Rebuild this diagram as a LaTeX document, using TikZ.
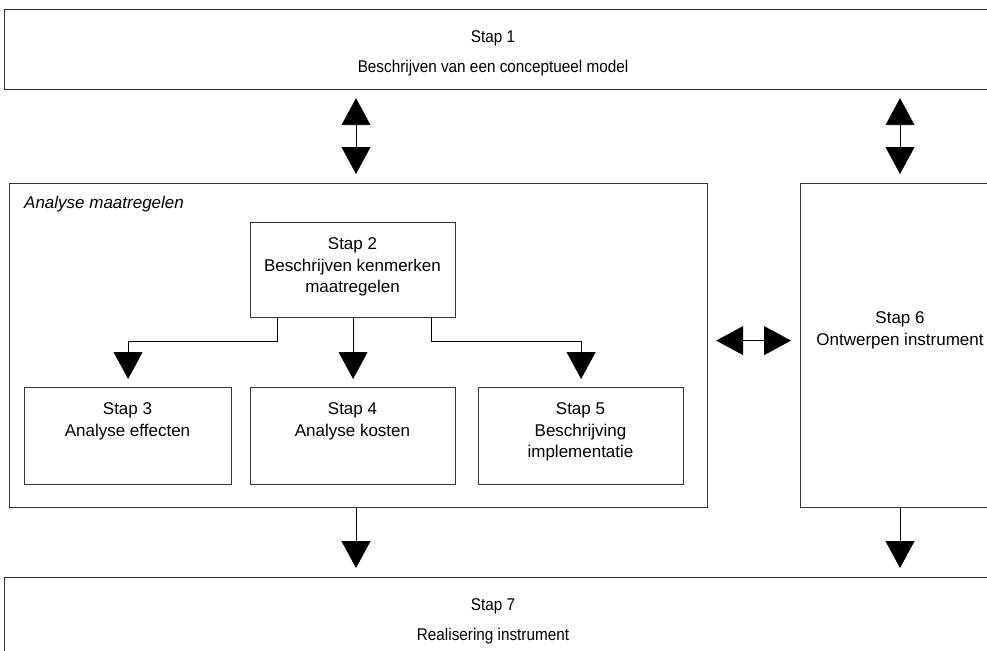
\documentclass[tikz,border=0pt]{standalone}
\usepackage{fontspec}
\setmainfont{Liberation Sans}
\newfontfamily\narrowsans[FakeStretch=0.9]{Liberation Sans}
\usetikzlibrary{arrows.meta}
\begin{document}
\begin{tikzpicture}[x=1pt,y=-1pt,
  frame/.style={draw=black!80, line width=1.2pt, inner sep=0pt, anchor=north west},
  lbl/.style={font=\fontsize{17}{21.8}\selectfont, align=center, inner sep=0pt},
  widelbl/.style={font=\narrowsans\fontsize{17}{30}\selectfont, align=center, inner sep=0pt},
  link/.style={line width=0.9pt},
  head/.tip={Triangle[length=27pt,width=29pt]},
  onehead/.style={link, -head},
  twohead/.style={link, head-head}
]
\useasboundingbox (0,0) rectangle (987,650);

% frames
\node[frame, minimum width=1000pt, minimum height=80pt]  (s1)  at (4,9)    {};
\node[frame, minimum width=698pt,  minimum height=324pt] (grp) at (9,183)  {};
\node[frame, minimum width=220pt,  minimum height=324pt] (s6)  at (800,183) {};
\node[frame, minimum width=1000pt, minimum height=100pt] (s7)  at (4,577)  {};
\node[frame, minimum width=205pt,  minimum height=95pt]  (s2)  at (250,222) {};
\node[frame, minimum width=207pt,  minimum height=97pt]  (s3)  at (24,387)  {};
\node[frame, minimum width=205pt,  minimum height=97pt]  (s4)  at (250,387) {};
\node[frame, minimum width=205pt,  minimum height=97pt]  (s5)  at (478,387) {};

% labels
\node[widelbl] (t1) at (493,53) {Stap 1\\Beschrijven van een conceptueel model};
\node[lbl, font=\fontsize{17}{21.8}\selectfont\itshape, anchor=west] (tg) at (24,204) {Analyse maatregelen};
\node[lbl] (t2) at (352.5,267) {Stap 2\\Beschrijven kenmerken\\maatregelen};
\node[lbl] (t3) at (127.5,421.5) {Stap 3\\Analyse effecten};
\node[lbl] (t4) at (352.5,421.5) {Stap 4\\Analyse kosten};
\node[lbl] (t5) at (580.5,432) {Stap 5\\Beschrijving\\implementatie};
\node[lbl] (t6) at (900,330) {Stap 6\\Ontwerpen instrument};
\node[widelbl] (t7) at (493,621) {Stap 7\\Realisering instrument};

% connectors
\coordinate (ax) at (356,0);
\coordinate (bx) at (900,0);
\coordinate (bus) at (0,341);
\draw[twohead, shorten <=8pt, shorten >=9pt] (s1.south -| ax) -- (grp.north -| ax);
\draw[twohead, shorten <=8pt, shorten >=9pt] (s1.south -| bx) -- (s6.north -| bx);
\draw[onehead, shorten >=8pt] ([xshift=-76pt]s2.south) -- ([xshift=-76pt]s2.south |- bus) -| (s3.north);
\draw[onehead, shorten >=8pt] (s2.south) -- (s4.north);
\draw[onehead, shorten >=8pt] ([xshift=78pt]s2.south) -- ([xshift=78pt]s2.south |- bus) -| (s5.north);
\draw[twohead, shorten <=8pt, shorten >=9pt] ([yshift=5pt]grp.east) -- ([yshift=5pt]grp.east -| s6.west);
\draw[onehead, shorten >=9pt] (grp.south -| ax) -- (s7.north -| ax);
\draw[onehead, shorten >=9pt] (s6.south -| bx) -- (s7.north -| bx);
\end{tikzpicture}
\end{document}
